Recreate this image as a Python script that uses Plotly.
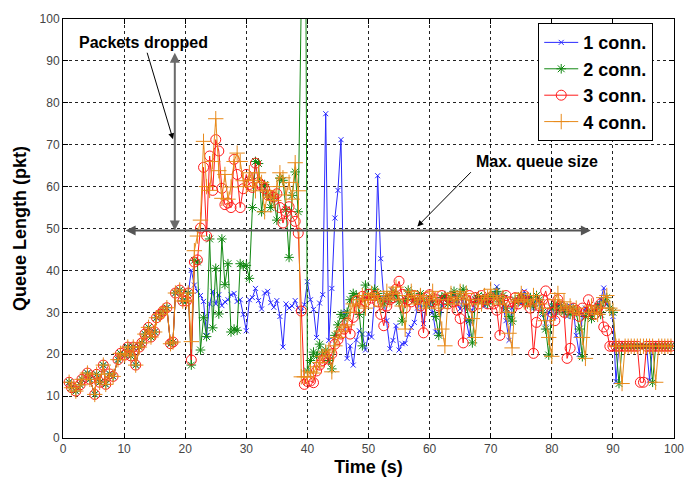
import plotly.graph_objects as go

# ---- data ----
# common start (all four runs coincide before ~20 s)
t_early = [1.0, 1.4, 2.1, 2.8, 3.1, 4.0, 4.4, 5.2, 5.5, 6.0, 6.6, 7.0, 7.6, 8.2, 9.0, 9.4,
           10.1, 10.6, 11.1, 11.5, 11.9, 12.5, 12.9, 13.4, 14.0, 14.4, 15.0, 15.3, 15.9, 16.4,
           17.0, 17.6, 18.0, 18.4, 19.1, 19.6, 20.2, 20.5]
q_early = [13.3, 12.0, 11.2, 12.7, 14.0, 15.5, 14.0, 10.4, 15.2, 13.3, 17.4, 12.8, 15.3, 14.7,
           18.7, 20.2, 19.8, 21.7, 19.6, 21.7, 17.4, 21.7, 22.7, 24.8, 26.4, 24.1, 25.3, 28.7,
           29.5, 30.3, 31.1, 22.5, 22.9, 34.6, 35.3, 32.7, 32.7, 34.6]

t_late = [21.0, 21.5, 22.0, 22.5, 23.0, 23.5, 24.0, 24.5, 25.0, 25.5, 26.0, 26.5, 27.0, 27.5, 28.0, 28.5, 29.0, 29.5, 30.0,
          30.5, 31.0, 31.5, 32.0, 32.5, 33.0, 33.5, 34.0, 34.5, 35.0, 35.5, 36.0, 36.5, 37.0, 37.5, 38.0, 38.5, 39.0, 39.5, 40.0,
          40.5, 41.0, 41.5, 42.0, 42.5, 43.0, 43.5, 44.0, 44.5, 45.0, 45.5, 46.0, 46.5, 47.0, 47.5, 48.0, 48.5, 49.0, 49.5, 50.0,
          50.5, 51.0, 51.5, 52.0, 52.5, 53.0, 53.5, 54.0, 54.5, 55.0, 55.5, 56.0, 56.5, 57.0, 57.5, 58.0, 58.5, 59.0, 59.5, 60.0,
          60.5, 61.0, 61.5, 62.0, 62.5, 63.0, 63.5, 64.0, 64.5, 65.0, 65.5, 66.0, 66.5, 67.0, 67.5, 68.0, 68.5, 69.0, 69.5, 70.0,
          70.5, 71.0, 71.5, 72.0, 72.5, 73.0, 73.5, 74.0, 74.5, 75.0, 75.5, 76.0, 76.5, 77.0, 77.5, 78.0, 78.5, 79.0, 79.5, 80.0,
          80.5, 81.0, 81.5, 82.0, 82.5, 83.0, 83.5, 84.0, 84.5, 85.0, 85.5, 86.0, 86.5, 87.0, 87.5, 88.0, 88.5, 89.0, 89.5, 90.0,
          90.5, 91.0, 91.5, 92.0, 92.5, 93.0, 93.5, 94.0, 94.5, 95.0, 95.5, 96.0, 96.5, 97.0, 97.5, 98.0, 98.5, 99.0, 99.5]

q1_late = [40.0, 36.5, 35.0, 34.0, 32.6, 24.5, 32.0, 35.0, 32.0, 34.2, 31.6, 32.5, 33.0, 34.2, 34.5, 32.6, 33.0, 29.5, 25.6,
           33.0, 33.5, 35.7, 32.8, 30.8, 34.6, 35.0, 32.3, 31.2, 32.8, 29.0, 21.7, 32.0, 31.0, 31.5, 32.8, 31.0, 30.2, 31.8, 37.3,
           33.0, 30.7, 24.0, 32.2, 34.2, 77.4, 23.3, 35.7, 52.5, 59.1, 71.2, 29.9, 19.0, 22.0, 17.4, 23.4, 25.6, 24.8, 21.0, 24.8,
           24.1, 33.4, 62.6, 42.8, 33.4, 28.0, 21.3, 23.3, 26.8, 21.0, 22.5, 22.6, 24.7, 26.4, 27.6, 31.0, 33.0, 27.3, 32.0, 33.0,
           30.0, 25.3, 24.8, 31.5, 33.5, 32.0, 33.2, 34.5, 32.0, 30.8, 33.5, 28.0, 24.3, 30.5, 33.0, 32.5, 33.8, 31.5, 32.8, 33.0,
           34.5, 36.1, 33.0, 31.5, 28.0, 23.3, 31.0, 32.5, 33.0, 32.0, 35.0, 33.5, 32.8, 31.0, 33.5, 32.0, 29.5, 26.5, 30.0, 31.5,
           29.0, 31.5, 32.0, 30.5, 29.0, 31.5, 31.0, 24.5, 20.0, 29.5, 31.0, 30.0, 29.0, 30.5, 31.5, 33.0, 35.8, 32.0, 31.0, 29.0,
           13.5, 21.9, 21.9, 21.9, 21.9, 21.9, 21.9, 21.9, 21.9, 21.9, 21.9, 13.8, 21.9, 21.9, 21.9, 21.9, 21.9, 21.9, 21.9]

q2_late = [17.4, 42.4, 42.0, 21.0, 28.7, 24.2, 47.5, 26.3, 40.5, 29.6, 47.5, 36.6, 41.6, 25.3, 26.0, 25.7, 41.6, 41.0, 41.2,
           38.1, 55.0, 66.0, 65.5, 54.0, 60.5, 58.0, 55.0, 57.5, 52.0, 62.0, 61.5, 54.5, 43.1, 57.9, 63.5, 54.0, 105.0, 200.0, 16.0,
           18.5, 20.5, 19.5, 22.4, 20.0, 21.0, 18.5, 16.5, 24.5, 27.0, 29.5, 28.5, 30.0, 33.0, 34.5, 34.0, 29.5, 22.0, 36.5, 33.5,
           34.0, 35.5, 34.5, 33.0, 32.0, 34.0, 33.0, 35.0, 34.0, 32.5, 27.9, 33.0, 35.3, 34.0, 33.0, 32.5, 34.5, 33.0, 31.5, 33.5,
           32.5, 29.0, 24.5, 33.5, 34.0, 32.0, 33.5, 35.0, 33.0, 34.5, 35.5, 31.5, 28.0, 22.7, 33.0, 34.0, 32.5, 33.8, 32.0, 34.0,
           33.5, 35.0, 32.5, 34.0, 31.0, 29.0, 27.9, 33.0, 32.5, 34.0, 33.0, 32.0, 33.5, 31.5, 34.0, 33.0, 30.0, 26.0, 19.8, 31.0,
           32.0, 30.5, 31.5, 30.0, 31.0, 29.5, 31.0, 30.0, 26.0, 19.4, 29.0, 30.5, 28.5, 30.0, 31.5, 29.5, 32.5, 33.5, 31.0, 30.0,
           21.9, 13.0, 21.9, 21.9, 21.9, 21.9, 21.9, 21.9, 21.9, 21.9, 21.9, 21.9, 13.3, 21.9, 21.9, 21.9, 21.9, 21.9, 21.9]

q3_late = [18.6, 42.0, 42.5, 50.1, 64.6, 48.2, 67.3, 59.1, 71.2, 68.5, 59.6, 55.7, 56.1, 55.0, 66.5, 62.9, 55.0, 59.5, 62.9,
           60.5, 59.8, 65.6, 61.0, 60.3, 59.5, 58.0, 57.9, 57.5, 58.3, 55.0, 51.3, 54.0, 55.2, 52.9, 51.7, 48.9, 30.3, 12.8, 13.5,
           13.6, 13.2, 16.0, 17.4, 18.5, 19.3, 18.8, 20.1, 22.4, 23.5, 24.8, 26.0, 27.5, 24.8, 28.8, 32.7, 31.0, 33.8, 32.5, 34.3,
           33.4, 34.0, 32.5, 29.5, 26.8, 31.5, 33.0, 33.5, 35.5, 37.4, 34.3, 31.0, 33.0, 32.5, 34.0, 33.0, 31.5, 25.1, 33.5, 34.2,
           32.5, 33.0, 31.5, 34.0, 33.0, 32.0, 33.5, 32.5, 30.5, 28.5, 22.7, 33.0, 34.0, 31.3, 33.5, 32.0, 34.0, 33.0, 32.0, 33.5,
           32.0, 30.5, 24.5, 33.0, 34.0, 32.5, 31.0, 33.5, 32.0, 33.0, 34.0, 32.5, 31.0, 20.2, 27.6, 31.5, 33.0, 35.1, 32.0, 30.0,
           28.0, 33.0, 31.5, 30.0, 19.0, 21.4, 31.0, 30.5, 29.0, 31.0, 30.0, 33.0, 30.5, 29.5, 31.0, 32.0, 26.5, 25.6, 21.9, 21.9,
           21.9, 21.9, 21.9, 21.9, 21.9, 21.9, 21.9, 21.9, 13.3, 13.3, 21.9, 21.9, 21.9, 21.9, 21.9, 21.9, 21.9, 21.9, 21.9]

q4_late = [23.0, 44.7, 48.2, 52.0, 70.8, 60.0, 59.1, 66.0, 76.2, 63.8, 57.2, 62.9, 57.0, 59.9, 66.0, 68.0, 66.0, 61.4, 60.0,
           63.3, 61.5, 59.0, 63.3, 61.0, 54.0, 59.0, 57.5, 56.7, 60.0, 63.3, 62.1, 58.0, 61.0, 57.0, 65.7, 59.0, 14.6, 14.6, 14.6,
           15.8, 15.5, 17.0, 18.0, 19.5, 20.5, 21.0, 15.8, 22.0, 24.0, 25.5, 26.5, 27.0, 30.0, 32.0, 31.5, 33.0, 34.0, 31.0, 33.0,
           34.5, 33.0, 34.0, 31.5, 33.5, 35.0, 33.0, 34.5, 36.0, 33.0, 31.5, 26.0, 34.0, 35.0, 33.5, 32.0, 34.0, 33.0, 31.0, 33.5,
           35.0, 33.0, 31.0, 26.0, 22.0, 33.0, 34.5, 32.0, 33.5, 35.0, 33.0, 34.5, 32.0, 28.5, 24.0, 33.0, 32.0, 34.0, 33.5, 35.5,
           33.0, 34.0, 32.0, 33.5, 30.0, 25.0, 21.5, 32.5, 33.0, 34.5, 32.5, 33.0, 31.5, 34.0, 33.0, 32.0, 31.0, 28.0, 24.0, 19.5,
           33.0, 34.5, 31.0, 32.5, 30.5, 31.5, 30.0, 31.0, 29.5, 24.0, 19.0, 30.0, 31.5, 30.0, 29.5, 31.0, 33.5, 34.0, 31.0, 30.5,
           21.9, 21.9, 13.0, 21.9, 21.9, 21.9, 21.9, 21.9, 21.9, 21.9, 21.9, 21.9, 21.9, 13.3, 21.9, 21.9, 21.9, 21.9, 21.9]

series_names = ["1 conn.", "2 conn.", "3 conn.", "4 conn."]
x_ticks = [0, 10, 20, 30, 40, 50, 60, 70, 80, 90, 100]
y_ticks = [0, 10, 20, 30, 40, 50, 60, 70, 80, 90, 100]
max_queue = 49.5

# ---- figure ----
time = t_early + t_late
values = [q_early + q1_late, q_early + q2_late, q_early + q3_late, q_early + q4_late]
colors = ["#2a2aff", "#118811", "#ff1a1a", "#e88a1a"]
symbols = ["x-thin-open", "asterisk-open", "circle-open", "cross-thin-open"]
sizes = [5, 8, 10, 11]

fig = go.Figure()
for name, q, c, s, sz in zip(series_names, values, colors, symbols, sizes):
    fig.add_trace(go.Scatter(
        x=time, y=q, name=name, mode="lines+markers",
        line=dict(color=c, width=1),
        marker=dict(symbol=s, size=sz, color=c, line=dict(color=c, width=1)),
    ))

bold = dict(family="Liberation Sans, Arial, sans-serif", color="black", weight="bold")

fig.update_layout(
    width=696, height=485,
    margin=dict(l=63, r=21, t=15, b=42),
    paper_bgcolor="white", plot_bgcolor="white",
    showlegend=True,
    legend=dict(
        x=0.966, y=0.99, xanchor="right", yanchor="top",
        bgcolor="white", bordercolor="black", borderwidth=1,
        font=dict(size=18, **bold), itemwidth=34, tracegroupgap=0,
    ),
)

axis_common = dict(
    showline=True, linecolor="black", linewidth=1, mirror="ticks",
    ticks="inside", ticklen=5, tickcolor="black",
    showgrid=True, gridcolor="#222222", gridwidth=1, griddash="dot",
    zeroline=False,
    tickfont=dict(family="Liberation Sans, Arial, sans-serif", size=12, color="#444444"),
)
fig.update_xaxes(range=[0, 100], tickvals=x_ticks,
                 title=dict(text="Time (s)", font=dict(size=18, **bold), standoff=4),
                 **axis_common)
fig.update_yaxes(range=[0, 100], tickvals=y_ticks,
                 title=dict(text="Queue Length (pkt)", font=dict(size=18, **bold), standoff=8),
                 **axis_common)

ann_font = dict(size=16, **bold)
# "Packets dropped" label and arrow
fig.add_annotation(x=13.2, y=94.4, text="Packets dropped", showarrow=False, font=ann_font)
fig.add_annotation(x=18.0, y=71.3, ax=13.7, ay=92.3, axref="x", ayref="y", text="",
                   showarrow=True, arrowhead=2, arrowsize=1.2, arrowwidth=1, arrowcolor="black")
# vertical double arrow (packets dropped range)
fig.add_annotation(x=18.3, y=max_queue, ax=18.3, ay=92.3, axref="x", ayref="y", text="",
                   showarrow=True, arrowhead=2, startarrowhead=2, arrowside="end+start",
                   arrowsize=1, arrowwidth=2, arrowcolor="#6a6a6a")
# horizontal double arrow (max queue size)
fig.add_annotation(x=86.4, y=max_queue, ax=10.0, ay=max_queue, axref="x", ayref="y", text="",
                   showarrow=True, arrowhead=2, startarrowhead=2, arrowside="end+start",
                   arrowsize=1, arrowwidth=2, arrowcolor="#555555")
# "Max. queue size" label and arrow
fig.add_annotation(x=77.5, y=66.1, text="Max. queue size", showarrow=False, font=ann_font)
fig.add_annotation(x=58.0, y=50.5, ax=67.0, ay=63.8, axref="x", ayref="y", text="",
                   showarrow=True, arrowhead=2, arrowsize=1.2, arrowwidth=1, arrowcolor="black")

fig.write_html("out.html")
